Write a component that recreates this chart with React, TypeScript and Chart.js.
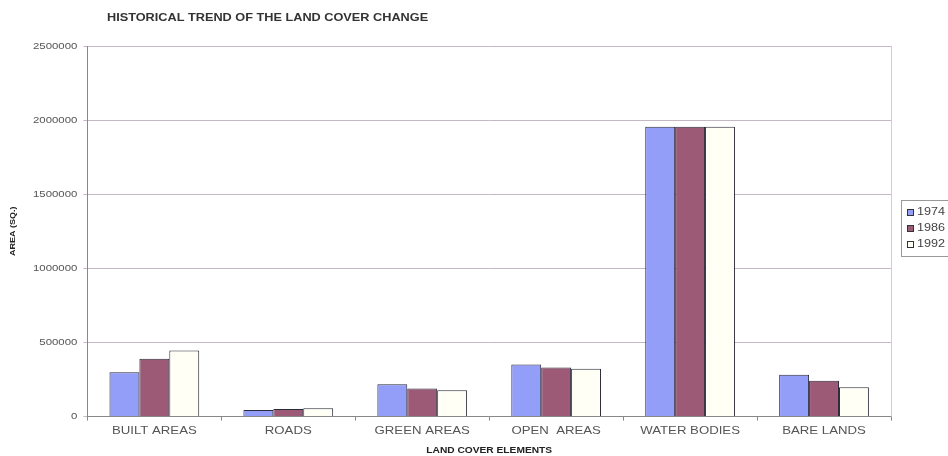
import React, { useEffect, useRef } from "react";
import Chart from "chart.js/auto";

const chartTitle = "HISTORICAL TREND OF THE LAND COVER CHANGE";
const xTitle = "LAND COVER ELEMENTS";
const yTitle = "AREA (SQ.)";
const categories = ["BUILT AREAS", "ROADS", "GREEN AREAS", "OPEN  AREAS", "WATER BODIES", "BARE LANDS"];
const seriesNames = ["1974", "1986", "1992"];
const values1974 = [300000, 45000, 218000, 351000, 1955000, 282000];
const values1986 = [390000, 52000, 190000, 331000, 1955000, 241000];
const values1992 = [446000, 56000, 178000, 322000, 1955000, 198000];
const seriesColors = ["#929ef7", "#9c5a76", "#fffff6"];

const FONT = "'Liberation Sans', Arial, sans-serif";
const SX = 1.2; // horizontal text stretch of the scanned original

export default function App() {
  const ref = useRef<HTMLCanvasElement>(null);
  useEffect(() => {
    document.body.style.margin = "0";
    Chart.defaults.font.family = FONT;
    const canvas = ref.current!;
    const c2d: any = canvas.getContext("2d");
    const origFill = c2d.fillText.bind(c2d);
    const origMeasure = c2d.measureText.bind(c2d);
    c2d.fillText = (t: string, x: number, y: number, mw?: number) => {
      c2d.save();
      c2d.translate(x, y);
      c2d.scale(SX, 1);
      if (mw !== undefined) origFill(t, 0, 0, mw / SX);
      else origFill(t, 0, 0);
      c2d.restore();
    };
    c2d.measureText = (t: string) => {
      const m = origMeasure(t);
      return {
        width: m.width * SX,
        actualBoundingBoxAscent: m.actualBoundingBoxAscent,
        actualBoundingBoxDescent: m.actualBoundingBoxDescent,
        actualBoundingBoxLeft: m.actualBoundingBoxLeft * SX,
        actualBoundingBoxRight: m.actualBoundingBoxRight * SX,
        fontBoundingBoxAscent: m.fontBoundingBoxAscent,
        fontBoundingBoxDescent: m.fontBoundingBoxDescent,
      };
    };
    const extras = {
      id: "extras",
      afterDraw(chart: any) {
        const ctx = chart.ctx;
        ctx.save();
        // title
        ctx.fillStyle = "#333";
        ctx.font = `bold 10.6px ${FONT}`;
        ctx.textBaseline = "middle";
        ctx.textAlign = "left";
        ctx.fillText(chartTitle, 107, 18);
        // right border of plot
        const a = chart.chartArea;
        ctx.strokeStyle = "#d8c8d8";
        ctx.lineWidth = 1;
        ctx.beginPath();
        ctx.moveTo(Math.round(a.right) + 0.5, a.top);
        ctx.lineTo(Math.round(a.right) + 0.5, a.bottom);
        ctx.stroke();
        // legend
        const ds = chart.data.datasets;
        const lx = Math.round(a.right) + 10;
        const midY = (a.top + a.bottom) / 2 - 3;
        const step = 16;
        const boxTop = Math.round(midY - (ds.length * step) / 2 - 4);
        const boxH = ds.length * step + 8;
        ctx.strokeStyle = "#999";
        ctx.strokeRect(lx + 0.5, boxTop + 0.5, 60, boxH);
        ctx.font = `10.5px ${FONT}`;
        ds.forEach((d: any, i: number) => {
          const cy = boxTop + 4 + step * i + step / 2;
          ctx.fillStyle = d.backgroundColor;
          ctx.fillRect(lx + 6, cy - 3, 6, 6);
          ctx.strokeStyle = "#333";
          ctx.strokeRect(lx + 6.5, cy - 2.5, 6, 6);
          ctx.fillStyle = "#444";
          ctx.textBaseline = "middle";
          ctx.fillText(d.label, lx + 16, cy + 0.5);
        });
        ctx.restore();
      },
    };
    const data = [values1974, values1986, values1992];
    const chart = new Chart(canvas, {
      type: "bar",
      data: {
        labels: categories,
        datasets: seriesNames.map((n, i) => ({
          label: n,
          data: data[i],
          backgroundColor: seriesColors[i],
          borderColor: "#2a2a3a",
          borderWidth: 1,
          categoryPercentage: 0.67,
          barPercentage: 1,
        })),
      },
      options: {
        responsive: false,
        animation: false,
        layout: { padding: { top: 46, left: 8, right: 57, bottom: 0 } },
        plugins: {
          title: { display: false },
          tooltip: { enabled: false },
          legend: { display: false },
        },
        scales: {
          x: {
            grid: { offset: true, drawOnChartArea: false, drawTicks: true, tickLength: 4, color: "#888" },
            border: { color: "#888" },
            ticks: { color: "#555", font: { size: 11 }, padding: 4, maxRotation: 0, autoSkip: false },
            title: { display: true, text: xTitle, color: "#222", font: { size: 8.5, weight: "bold" }, padding: { top: 4, bottom: 0 } },
          },
          y: {
            min: 0,
            max: 2500000,
            ticks: { stepSize: 500000, color: "#555", font: { size: 9.5 }, padding: 6, callback: (v: any) => String(v) },
            grid: { color: "#c4b8c4", tickLength: 4 },
            border: { color: "#888" },
            title: { display: true, text: yTitle, color: "#222", font: { size: 7.5, weight: "bold" }, padding: { top: 0, bottom: 10 } },
          },
        },
      },
      plugins: [extras],
    });
    return () => chart.destroy();
  }, []);
  return (
    <div style={{ width: 948, height: 456, background: "#fff" }}>
      <canvas ref={ref} width={948} height={456} />
    </div>
  );
}
